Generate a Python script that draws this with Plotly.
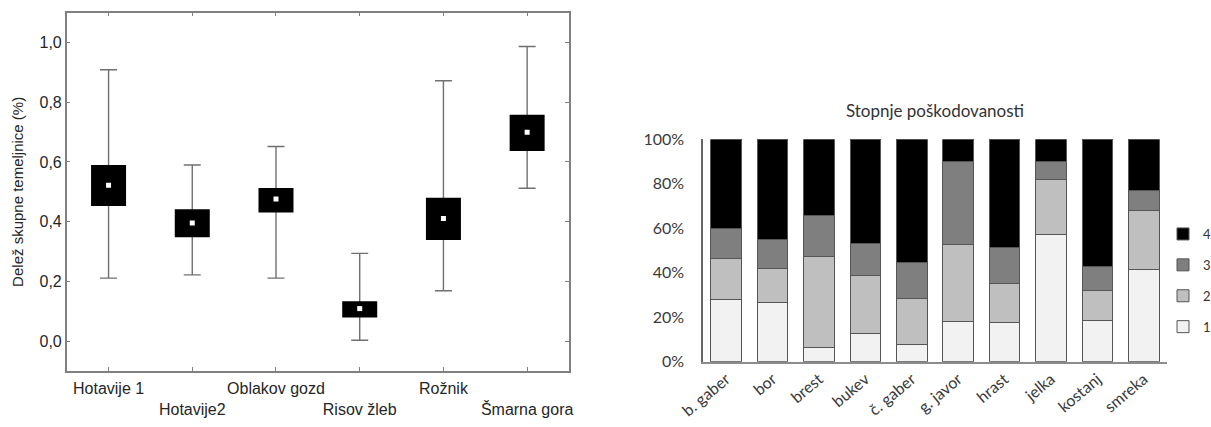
import plotly.graph_objects as go

# ---------------- Left panel data (box summary) ----------------
sites = ["Hotavije 1", "Hotavije2", "Oblakov gozd", "Risov žleb", "Rožnik", "Šmarna gora"]
mean_vals = [0.522, 0.396, 0.476, 0.109, 0.411, 0.700]
box_low = [0.453, 0.348, 0.431, 0.079, 0.339, 0.637]
box_high = [0.590, 0.442, 0.513, 0.134, 0.480, 0.758]
whisk_low = [0.211, 0.222, 0.211, 0.003, 0.169, 0.512]
whisk_high = [0.909, 0.590, 0.652, 0.294, 0.872, 0.987]
y_ticks = [0.0, 0.2, 0.4, 0.6, 0.8, 1.0]

# ---------------- Right panel data (stacked %) ----------------
species = ["b. gaber", "bor", "brest", "bukev", "č. gaber", "g. javor", "hrast", "jelka", "kostanj", "smreka"]
deg1 = [27.8, 26.5, 6.4, 12.7, 7.8, 18.1, 17.7, 57.0, 18.7, 41.5]
deg2 = [18.6, 15.6, 40.8, 25.9, 20.6, 34.4, 17.6, 25.0, 13.2, 26.5]
deg3 = [13.6, 12.8, 18.4, 14.7, 16.2, 37.3, 16.2, 7.8, 10.8, 9.2]
deg4 = [40.0, 45.1, 34.4, 46.7, 55.4, 10.2, 48.5, 10.2, 57.3, 22.8]
pct_ticks = [0, 20, 40, 60, 80, 100]
pct_labels = ["0%", "20%", "40%", "60%", "80%", "100%"]

W, H = 1211, 427
fig = go.Figure()

# whiskers
fig.add_trace(go.Scatter(
    x=sites, y=mean_vals, mode="markers",
    marker=dict(size=1, color="rgba(0,0,0,0)"),
    error_y=dict(type="data", symmetric=False,
                 array=[h - m for h, m in zip(whisk_high, mean_vals)],
                 arrayminus=[m - l for m, l in zip(mean_vals, whisk_low)],
                 color="#707070", thickness=1.4, width=8.5),
    showlegend=False, hoverinfo="skip", xaxis="x", yaxis="y"))

# boxes drawn as thick segments
bx, by = [], []
for s, lo, hi in zip(sites, box_low, box_high):
    bx += [s, s, None]
    by += [lo, hi, None]
fig.add_trace(go.Scatter(
    x=bx, y=by, mode="lines", line=dict(color="black", width=35),
    showlegend=False, hoverinfo="skip", xaxis="x", yaxis="y"))

# means
fig.add_trace(go.Scatter(
    x=sites, y=mean_vals, mode="markers",
    marker=dict(symbol="square", size=5, color="white", line=dict(width=0)),
    showlegend=False, xaxis="x", yaxis="y"))

# stacked bars
colors = ["#f2f2f2", "#bfbfbf", "#7f7f7f", "#000000"]
names = ["1", "2", "3", "4"]
for i, (name, vals, c) in enumerate(zip(names, [deg1, deg2, deg3, deg4], colors)):
    fig.add_trace(go.Bar(
        x=species, y=vals, name=name, legendgroup=name, legendrank=10 - i,
        marker=dict(color=c, line=dict(color="#555555", width=1)),
        xaxis="x2", yaxis="y2"))

left_font = dict(family="Liberation Sans, Arial", size=16, color="#262626")
right_font = dict(family="Lato", size=16, color="#3a3a3a")

fig.update_layout(
    width=W, height=H,
    margin=dict(l=0, r=0, t=0, b=0, autoexpand=False),
    paper_bgcolor="white", plot_bgcolor="white",
    separators=",.",
    barmode="stack", barnorm="percent", bargap=0.34,
    xaxis=dict(domain=[66.7 / W, 569 / W], type="category",
               range=[-0.5, 5.5],
               tickvals=sites,
               ticktext=[s if i % 2 == 0 else "<br>" + s for i, s in enumerate(sites)],
               tickangle=0,
               showline=True, linecolor="#808080", linewidth=1.5, mirror="ticks",
               ticks="inside", ticklen=4, tickcolor="#808080", tickwidth=1.2,
               ticklabelstandoff=2,
               showgrid=False, zeroline=False, tickfont=left_font, anchor="y"),
    yaxis=dict(domain=[56 / H, 414.3 / H], range=[-0.1, 1.1],
               tickvals=y_ticks, tickformat=".1f",
               showline=True, linecolor="#808080", linewidth=1.5, mirror="ticks",
               ticks="inside", ticklen=4, tickcolor="#808080", tickwidth=1.2,
               showgrid=False, zeroline=False, tickfont=left_font, anchor="x",
               title=dict(text="Delež skupne temeljnice (%)", standoff=12,
                          font=dict(family="Liberation Sans, Arial", size=15, color="#262626"))),
    xaxis2=dict(domain=[703 / W, 1167 / W], type="category", range=[-0.5, 9.5],
                showline=True, linecolor="#8c8c8c", linewidth=2,
                ticks="", showgrid=False, zeroline=False, tickangle=-40,
                tickfont=right_font, anchor="y2"),
    yaxis2=dict(domain=[65.3 / H, 287.7 / H], range=[0, 100],
                tickvals=pct_ticks, ticktext=pct_labels,
                showline=True, linecolor="#666666", linewidth=1.5,
                ticks="", ticklabelstandoff=14, showgrid=False, zeroline=False,
                tickfont=right_font, anchor="x2"),
    title=dict(text="Stopnje poškodovanosti", x=935 / W, xanchor="center",
               y=(H - 111) / H, yanchor="middle",
               font=dict(family="Lato", size=17, color="#333333")),
    legend=dict(x=1163 / W, xanchor="left", y=(H - 219) / H, yanchor="top",
                traceorder="grouped", tracegroupgap=11,
                font=dict(family="Lato", size=13, color="#333333"),
                bgcolor="rgba(0,0,0,0)"),
)

fig.write_html("out.html", config={"displayModeBar": False},
               post_script="document.body.style.margin='0';document.body.style.padding='0';")
